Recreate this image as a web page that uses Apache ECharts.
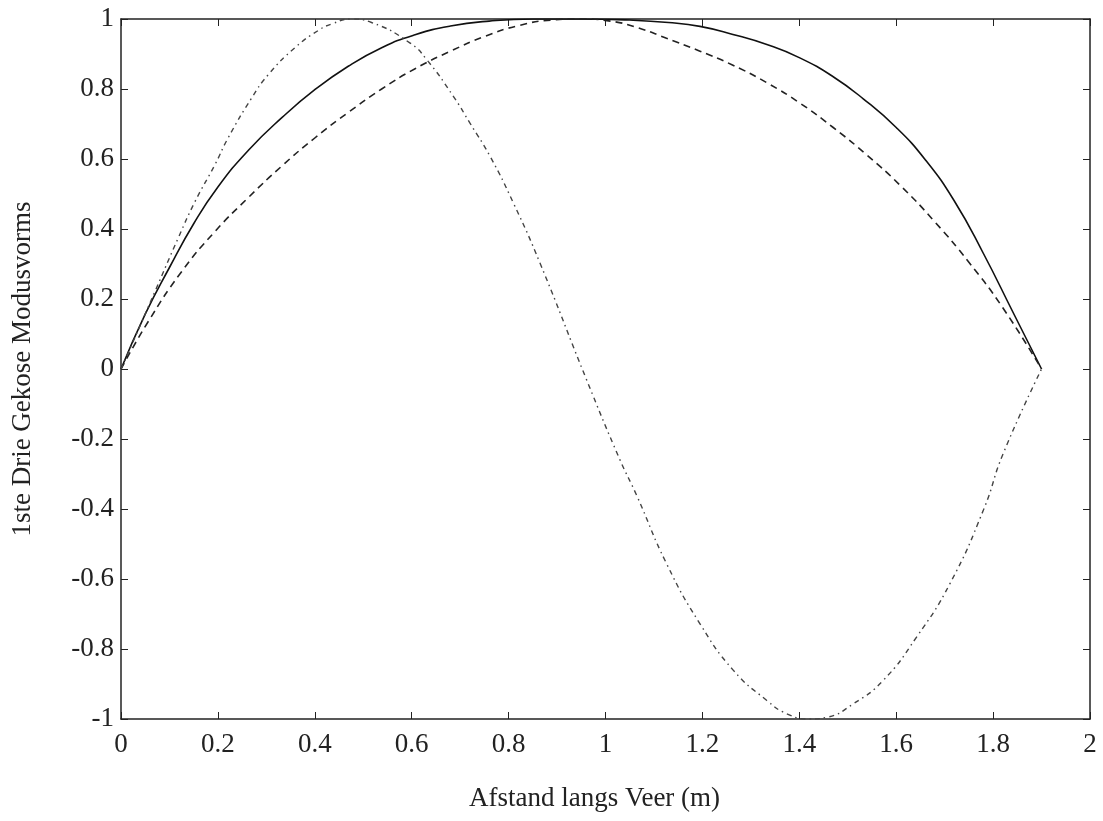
<!DOCTYPE html>
<html>
<head>
<meta charset="utf-8">
<script src="https://cdn.jsdelivr.net/npm/echarts@6/dist/echarts.min.js"></script>
<style>
html,body{margin:0;padding:0;background:#fff;}
#chart{width:1103px;height:821px;}
</style>
</head>
<body>
<div id="chart"></div>
<script>
// Mode 1 (solid)
const xSolid = [0, 0.05, 0.10, 0.15, 0.20, 0.263, 0.332, 0.400, 0.469, 0.538, 0.607, 0.680, 0.760, 0.850, 0.950, 1.050, 1.130, 1.195, 1.263, 1.333, 1.401, 1.470, 1.532, 1.600, 1.660, 1.720, 1.780, 1.840, 1.900];
const ySolid = [0, 0.157, 0.290, 0.415, 0.520, 0.625, 0.718, 0.798, 0.865, 0.918, 0.955, 0.980, 0.994, 1.000, 1.000, 0.997, 0.990, 0.979, 0.956, 0.927, 0.889, 0.835, 0.772, 0.690, 0.598, 0.480, 0.330, 0.165, 0];
// Mode (dashed)
const xDashed = [0, 0.056, 0.125, 0.194, 0.263, 0.332, 0.400, 0.469, 0.538, 0.607, 0.680, 0.750, 0.820, 0.890, 0.950, 1.010, 1.060, 1.126, 1.195, 1.263, 1.333, 1.401, 1.470, 1.539, 1.608, 1.680, 1.750, 1.820, 1.900];
const yDashed = [0, 0.135, 0.278, 0.393, 0.490, 0.580, 0.660, 0.733, 0.800, 0.858, 0.908, 0.950, 0.981, 0.997, 1.000, 0.994, 0.978, 0.945, 0.908, 0.868, 0.818, 0.760, 0.690, 0.612, 0.525, 0.420, 0.305, 0.175, 0];
// Mode (dash-dot)
const xDashDot = [0, 0.022, 0.070, 0.118, 0.153, 0.194, 0.221, 0.270, 0.304, 0.359, 0.407, 0.435, 0.475, 0.517, 0.596, 0.631, 0.686, 0.720, 0.762, 0.810, 0.865, 0.961, 1.030, 1.064, 1.126, 1.195, 1.264, 1.333, 1.374, 1.420, 1.457, 1.511, 1.573, 1.642, 1.711, 1.780, 1.821, 1.900];
const yDashDot = [0, 0.069, 0.221, 0.374, 0.479, 0.584, 0.660, 0.775, 0.841, 0.918, 0.967, 0.986, 1.000, 0.990, 0.932, 0.884, 0.779, 0.703, 0.607, 0.474, 0.302, -0.031, -0.260, -0.360, -0.556, -0.728, -0.861, -0.947, -0.985, -1.000, -0.995, -0.957, -0.890, -0.766, -0.613, -0.403, -0.241, 0];

const xTicks = ['0','0.2','0.4','0.6','0.8','1','1.2','1.4','1.6','1.8','2'];
const yTicks = ['-1','-0.8','-0.6','-0.4','-0.2','0','0.2','0.4','0.6','0.8','1'];
const xTitle = 'Afstand langs Veer (m)';
const yTitle = '1ste Drie Gekose Modusvorms';

function pairs(xs, ys){ return xs.map((x,i)=>[x, ys[i]]); }

const FONT = '"Liberation Serif", "DejaVu Serif", serif';
const INK = '#222';
const axisLineStyle = {show:true, onZero:false, lineStyle:{color:INK, width:1.5}};
const tickStyle = {show:true, inside:true, length:7, lineStyle:{color:INK, width:1}};

const chart = echarts.init(document.getElementById('chart'), null, {renderer:'canvas'});
chart.setOption({
  backgroundColor:'#fff',
  animation:false,
  grid:{left:121, right:13, top:19, bottom:102, containLabel:false, outerBoundsMode:'none'},
  xAxis:[{
    type:'value', min:0, max:2, interval:0.2, position:'bottom',
    axisLine:axisLineStyle, axisTick:tickStyle, splitLine:{show:false},
    axisLabel:{color:INK, fontFamily:FONT, fontSize:27, margin:12,
      formatter:(v)=>xTicks[Math.round(v/0.2)]},
    name:xTitle, nameLocation:'middle', nameGap:66,
    nameTextStyle:{color:INK, fontFamily:FONT, fontSize:27, padding:[0,22,0,0]}
  },{
    type:'value', min:0, max:2, interval:0.2, position:'top',
    axisLine:axisLineStyle, axisTick:tickStyle, splitLine:{show:false},
    axisLabel:{show:false}
  }],
  yAxis:[{
    type:'value', min:-1, max:1, interval:0.2, position:'left',
    axisLine:axisLineStyle, axisTick:tickStyle, splitLine:{show:false},
    axisLabel:{color:INK, fontFamily:FONT, fontSize:27, margin:7,
      formatter:(v)=>yTicks[Math.round((v+1)/0.2)]},
    name:yTitle, nameLocation:'middle', nameGap:85, nameRotate:90,
    nameTextStyle:{color:INK, fontFamily:FONT, fontSize:27}
  },{
    type:'value', min:-1, max:1, interval:0.2, position:'right',
    axisLine:axisLineStyle, axisTick:tickStyle, splitLine:{show:false},
    axisLabel:{show:false}
  }],
  series:[
    {type:'line', name:'Modus 1', data:pairs(xSolid,ySolid), showSymbol:false, smooth:0.5,
      lineStyle:{color:'#111', width:1.6, type:'solid'}},
    {type:'line', name:'Modus 2', data:pairs(xDashed,yDashed), showSymbol:false, smooth:0.5,
      lineStyle:{color:'#222', width:1.6, type:[7,5]}},
    {type:'line', name:'Modus 3', data:pairs(xDashDot,yDashDot), showSymbol:false, smooth:0.5,
      lineStyle:{color:'#444', width:1.4, type:[5,4,1.5,4]}}
  ]
});
</script>
</body>
</html>
